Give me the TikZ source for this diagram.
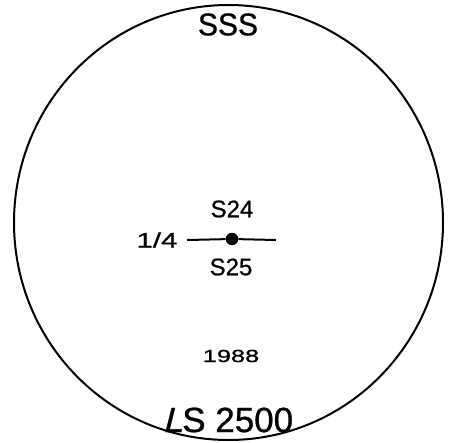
\documentclass[tikz,border=0pt]{standalone}
\usepackage{fontspec}
\setmainfont[FakeBold=0.8]{Liberation Sans}
\begin{document}
\begin{tikzpicture}[x=1pt,y=-1pt,
  lbl/.style={inner sep=0pt, outer sep=0pt, anchor=center},
  rim/.style={line width=2pt},
  wire/.style={line width=2pt}]
\useasboundingbox (0,0) rectangle (455,442);
\draw[rim] (228.5,222.5) ellipse [x radius=214.5, y radius=217.5];
\node[lbl] (sss) at (228,24.5) {\scalebox{1}[1.05]{\fontsize{30}{30}\selectfont SSS}};
\node[lbl] (s24) at (232,209) {\fontsize{24}{24}\selectfont S24};
\node[lbl] (s25) at (231,267) {\fontsize{24}{24}\selectfont S25};
\node[lbl] (frac) at (157,240) {\scalebox{1.4}[1]{\fontsize{21}{21}\selectfont 1/4}};
\node[circle, fill=black, inner sep=0pt, minimum size=12.5pt] (dot) at (232,239) {};
\coordinate (lend) at (187,240);
\coordinate (rend) at (276,240);
\draw[wire] (lend) -- (dot);
\draw[wire] (dot) -- (rend);
\node[lbl] (year) at (231,356) {\scalebox{1.45}[1]{\fontsize{17.5}{17.5}\selectfont 1988}};
\node[lbl] (ls) at (228,420) {\fontsize{35}{35}\selectfont {\addfontfeature{FakeSlant=0.25}L}S 2500};
\end{tikzpicture}
\end{document}
